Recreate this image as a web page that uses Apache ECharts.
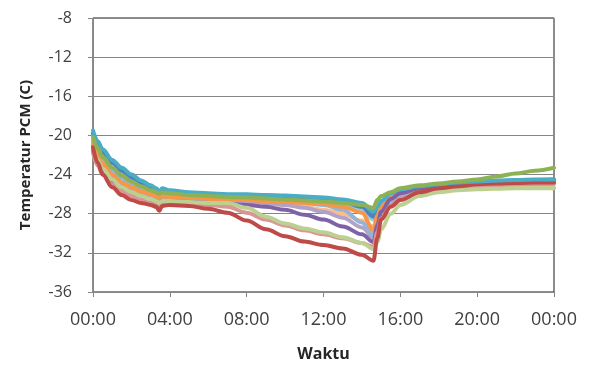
<!DOCTYPE html>
<html>
<head>
<meta charset="utf-8">
<script src="https://cdn.jsdelivr.net/npm/echarts@6/dist/echarts.min.js"></script>
<style>
  html, body { margin: 0; padding: 0; background: #fff; }
  #chart { width: 591px; height: 367px; }
</style>
</head>
<body>
<div id="chart"></div>
<script>
// Time of day in hours (0 = 00:00, 24 = next 00:00)
const hours = [0, 0.25, 0.5, 1, 1.5, 2, 2.5, 3, 3.3, 3.45, 3.6, 4, 5, 6, 7, 8, 9, 10, 11, 12, 13, 14, 14.6, 14.8, 15, 15.5, 16, 17, 18, 19, 20, 21, 22, 23, 24];

// PCM temperature (°C) for each measuring point
const tAqua = [-19.5,-20.6,-21.4,-22.5,-23.3,-24.0,-24.6,-25.1,-25.4,-25.8,-25.4,-25.6,-25.8,-25.9,-26.0,-26.0,-26.1,-26.15,-26.25,-26.35,-26.55,-26.9,-27.8,-27.3,-26.7,-25.9,-25.5,-25.2,-25.0,-24.8,-24.7,-24.6,-24.55,-24.5,-24.5];
const tBlue = [-19.8,-20.9,-21.7,-22.8,-23.6,-24.3,-24.9,-25.3,-25.6,-25.9,-25.6,-25.7,-25.9,-26.0,-26.1,-26.1,-26.2,-26.3,-26.4,-26.5,-26.8,-27.3,-28.3,-27.4,-26.8,-26.0,-25.6,-25.3,-25.1,-24.9,-24.8,-24.7,-24.65,-24.6,-24.6];
const tLightAqua = [-20.0,-21.1,-22.0,-23.1,-23.9,-24.6,-25.1,-25.5,-25.7,-26.0,-25.8,-25.8,-26.0,-26.1,-26.2,-26.2,-26.3,-26.4,-26.5,-26.6,-26.9,-27.6,-28.6,-27.8,-27.1,-26.2,-25.7,-25.3,-25.1,-24.9,-24.8,-24.75,-24.7,-24.7,-24.7];
const tOrange = [-20.8,-22.0,-22.9,-24.0,-24.8,-25.3,-25.7,-26.0,-26.2,-26.4,-26.2,-26.3,-26.4,-26.5,-26.55,-26.6,-26.7,-26.8,-26.9,-27.0,-27.3,-27.9,-29.7,-28.2,-27.2,-26.3,-25.8,-25.4,-25.2,-25.0,-24.9,-24.8,-24.75,-24.7,-24.7];
const tLightBlue = [-20.5,-21.6,-22.5,-23.6,-24.4,-25.0,-25.4,-25.8,-26.0,-26.2,-26.0,-26.1,-26.2,-26.3,-26.4,-26.5,-26.6,-26.75,-26.9,-27.1,-27.6,-28.9,-30.2,-28.6,-27.5,-26.5,-26.0,-25.5,-25.3,-25.1,-25.0,-24.9,-24.85,-24.8,-24.8];
const tLightOrange = [-21.1,-22.3,-23.2,-24.3,-25.1,-25.6,-26.0,-26.3,-26.5,-26.7,-26.5,-26.5,-26.6,-26.7,-26.8,-26.9,-27.0,-27.1,-27.3,-27.6,-28.0,-28.7,-29.3,-28.6,-27.9,-27.0,-26.5,-26.0,-25.7,-25.5,-25.4,-25.35,-25.3,-25.3,-25.3];
const tLavender = [-21.0,-22.2,-23.1,-24.2,-25.0,-25.5,-25.9,-26.2,-26.4,-26.6,-26.4,-26.4,-26.5,-26.6,-26.7,-26.8,-26.9,-27.1,-27.4,-27.8,-28.4,-29.4,-30.4,-29.0,-27.9,-26.8,-26.2,-25.7,-25.4,-25.2,-25.1,-25.0,-24.95,-24.9,-24.9];
const tPurple = [-21.5,-22.8,-23.7,-24.7,-25.4,-25.9,-26.3,-26.6,-26.7,-26.9,-26.7,-26.7,-26.8,-26.9,-27.0,-27.1,-27.3,-27.6,-28.1,-28.6,-29.3,-30.1,-30.9,-29.2,-27.8,-26.5,-25.9,-25.4,-25.1,-24.9,-24.8,-24.7,-24.6,-24.55,-24.5];
const tPink = [-21.8,-23.1,-24.0,-25.0,-25.7,-26.2,-26.5,-26.8,-26.9,-27.1,-26.9,-26.9,-27.0,-27.1,-27.3,-27.9,-28.6,-29.2,-29.7,-30.1,-30.5,-31.0,-31.4,-29.9,-28.5,-27.2,-26.5,-25.9,-25.6,-25.4,-25.2,-25.1,-25.0,-24.95,-24.9];
const tLightGreen = [-21.3,-22.5,-23.4,-24.5,-25.3,-25.8,-26.2,-26.5,-26.7,-26.9,-26.7,-26.7,-26.8,-26.9,-26.9,-27.4,-28.3,-29.0,-29.5,-29.9,-30.4,-31.0,-31.6,-30.9,-29.6,-28.0,-27.1,-26.2,-25.8,-25.6,-25.5,-25.45,-25.4,-25.4,-25.4];
const tGreen = [-20.2,-21.3,-22.2,-23.3,-24.1,-24.7,-25.2,-25.6,-25.8,-26.0,-25.8,-25.9,-26.1,-26.2,-26.3,-26.35,-26.45,-26.55,-26.65,-26.75,-26.9,-27.1,-27.4,-26.6,-26.2,-25.8,-25.4,-25.1,-24.9,-24.7,-24.5,-24.2,-23.9,-23.6,-23.3];
const tRed = [-21.2,-22.8,-24.0,-25.3,-26.1,-26.6,-26.9,-27.1,-27.3,-27.7,-27.2,-27.1,-27.2,-27.5,-27.9,-28.7,-29.6,-30.3,-30.85,-31.2,-31.55,-32.2,-32.8,-30.5,-28.6,-27.3,-26.6,-25.8,-25.4,-25.2,-25.0,-24.9,-24.85,-24.8,-24.8];

// Axis tick labels
const xTickLabels = ['00:00', '04:00', '08:00', '12:00', '16:00', '20:00', '00:00'];
const yTicks = [-36, -32, -28, -24, -20, -16, -12, -8];

const lines = [
  { values: tLightOrange, color: '#F9BE8C' },
  { values: tLavender, color: '#B3A2C7' },
  { values: tLightAqua, color: '#93CDDD' },
  { values: tBlue, color: '#4F81BD' },
  { values: tLightBlue, color: '#95B3D7' },
  { values: tOrange, color: '#F79646' },
  { values: tPurple, color: '#7F62A6' },
  { values: tPink, color: '#D99694' },
  { values: tLightGreen, color: '#BCD191' },
  { values: tRed, color: '#BE4B48' },
  { values: tAqua, color: '#4BACC6' },
  { values: tGreen, color: '#8DB255' }
];

const axisGrey = '#868686';
const labelFont = '"Open Sans", "Liberation Sans", sans-serif';

const chart = echarts.init(document.getElementById('chart'), null, { renderer: 'canvas' });
chart.setOption({
  animation: false,
  grid: {
    left: 93, right: 37, top: 18, bottom: 67,
    show: true, borderColor: '#1a1a1a', borderWidth: 1, backgroundColor: 'transparent'
  },
  xAxis: {
    type: 'value', min: 0, max: 24, interval: 4,
    name: 'Waktu', nameLocation: 'middle', nameGap: 54,
    nameTextStyle: { fontFamily: labelFont, fontWeight: 'bold', fontSize: 16, color: '#262626' },
    axisLine: { show: true, onZero: false, lineStyle: { color: axisGrey, width: 1 } },
    axisTick: { show: true, length: 5, lineStyle: { color: axisGrey } },
    splitLine: { show: false },
    axisLabel: {
      margin: 19, fontFamily: labelFont, fontSize: 18, color: '#404040',
      formatter: v => xTickLabels[Math.round(v / 4)]
    }
  },
  yAxis: {
    type: 'value', min: yTicks[0], max: yTicks[yTicks.length - 1], interval: 4,
    name: 'Temperatur PCM (C)', nameLocation: 'middle', nameGap: 60,
    nameTextStyle: { fontFamily: labelFont, fontWeight: 'bold', fontSize: 15, color: '#262626' },
    axisLine: { show: true, onZero: false, lineStyle: { color: axisGrey, width: 1 } },
    axisTick: { show: true, length: 5, lineStyle: { color: axisGrey } },
    splitLine: { show: true, lineStyle: { color: axisGrey, width: 1 } },
    axisLabel: { margin: 21, fontFamily: labelFont, fontSize: 16, color: '#404040' }
  },
  series: lines.map(l => ({
    type: 'line',
    data: hours.map((h, i) => [h, l.values[i]]),
    showSymbol: false,
    smooth: 0.35,
    smoothMonotone: 'x',
    lineStyle: { color: l.color, width: 4, cap: 'round', join: 'round' },
    itemStyle: { color: l.color }
  }))
});
</script>
</body>
</html>
